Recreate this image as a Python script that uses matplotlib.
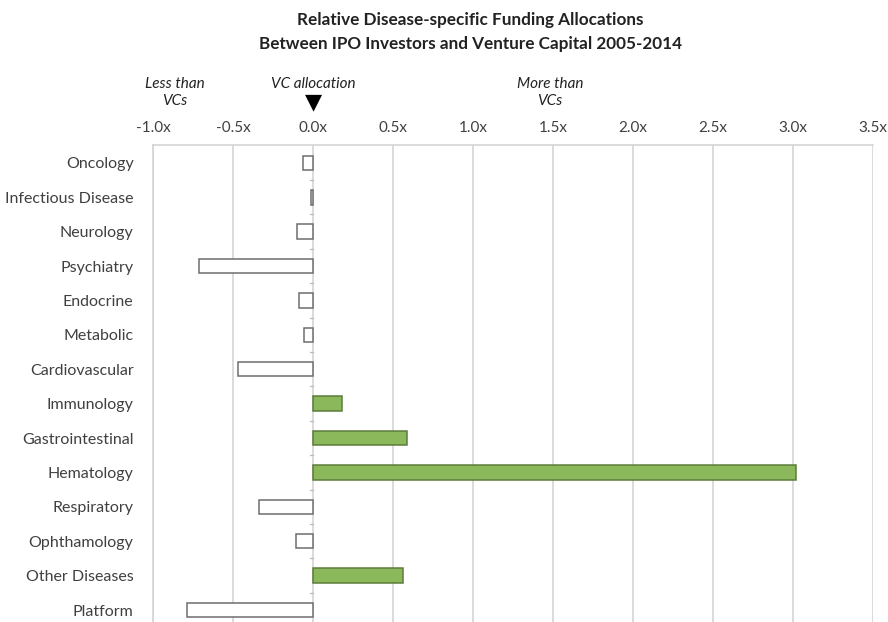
import numpy as np
import matplotlib
matplotlib.use("Agg")
import matplotlib.pyplot as plt

# relative allocation of IPO investors vs VCs, per disease area (0 = VC allocation)
categories = ["Oncology", "Infectious Disease", "Neurology", "Psychiatry", "Endocrine",
              "Metabolic", "Cardiovascular", "Immunology", "Gastrointestinal", "Hematology",
              "Respiratory", "Ophthamology", "Other Diseases", "Platform"]
values = [-0.06, -0.01, -0.10, -0.71, -0.085, -0.055, -0.47, 0.18, 0.59, 3.02,
          -0.34, -0.105, 0.56, -0.79]
xticks = [-1.0, -0.5, 0.0, 0.5, 1.0, 1.5, 2.0, 2.5, 3.0, 3.5]

GREEN, GREEN_EDGE, GREY_EDGE, GRID, TXT = "#8cb85c", "#5d7d3c", "#6e6e6e", "#d4d4d4", "#404040"
plt.rcParams["font.family"] = ["Lato", "DejaVu Sans"]

fig = plt.figure(figsize=(8.88, 6.22), dpi=100)
ax = fig.add_axes([153 / 888, 0.0, (873 - 153) / 888, (622 - 145) / 622])

y = np.arange(len(categories))
face = [GREEN if v > 0 else "white" for v in values]
edge = [GREEN_EDGE if v > 0 else GREY_EDGE for v in values]
ax.barh(y, values, height=0.42, color=face, edgecolor=edge, linewidth=1.1, zorder=3)

ax.set_xlim(-1.0, 3.5)
ax.set_ylim(13 + 12 / 34.4, -0.52)
ax.set_xticks(xticks)
ax.set_xticklabels([f"{t:.1f}x" for t in xticks])
ax.xaxis.tick_top()
ax.tick_params(axis="x", length=0, pad=7, labelsize=11, labelcolor=TXT)
ax.set_yticks(y)
ax.set_yticklabels(categories)
ax.tick_params(axis="y", length=0, pad=14, labelsize=11.5, labelcolor=TXT)
ax.grid(axis="x", color=GRID, lw=1.2, zorder=0)
for s in ("right", "bottom"):
    ax.spines[s].set_visible(False)
for s in ("top", "left"):
    ax.spines[s].set_color(GRID)
    ax.spines[s].set_linewidth(1.2)

# small category-boundary ticks on the zero line
for b in np.arange(len(categories) - 1) + 0.5:
    ax.plot([-0.018, 0], [b, b], color="#bbbbbb", lw=0.9, zorder=2)

fig.text(0.53, 1 - 12 / 622, "Relative Disease-specific Funding Allocations\n"
         "Between IPO Investors and Venture Capital 2005-2014",
         ha="center", va="top", fontsize=12.3, fontweight="bold", color="#222222",
         linespacing=1.6)
fig.text(175 / 888, 1 - 77 / 622, "Less than\nVCs", ha="center", va="top",
         fontsize=11, style="italic", color="#222222", linespacing=1.25)
fig.text(313 / 888, 1 - 77 / 622, "VC allocation", ha="center", va="top",
         fontsize=11, style="italic", color="#222222")
fig.text(550 / 888, 1 - 77 / 622, "More than\nVCs", ha="center", va="top",
         fontsize=11, style="italic", color="#222222", linespacing=1.25)
fig.text(313 / 888, 1 - 102 / 622, "\u25BC", ha="center", va="center",
         fontsize=16, color="black", family="DejaVu Sans")

fig.savefig("out.png", dpi=100)
